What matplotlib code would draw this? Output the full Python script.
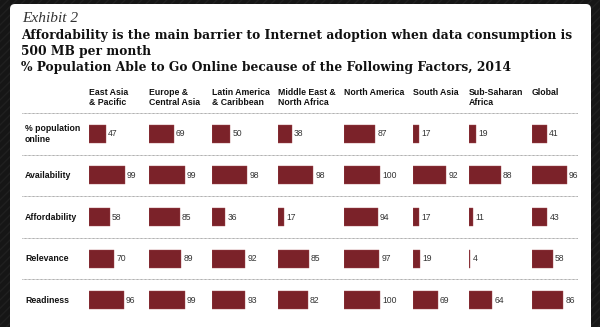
import matplotlib
matplotlib.use("Agg")
import matplotlib.pyplot as plt
from matplotlib.patches import FancyBboxPatch, Rectangle

regions = ["East Asia\n& Pacific", "Europe &\nCentral Asia", "Latin America\n& Caribbean",
           "Middle East &\nNorth Africa", "North America", "South Asia", "Sub-Saharan\nAfrica", "Global"]
factors = ["% population\nonline", "Availability", "Affordability", "Relevance", "Readiness"]
pct_online = [47, 69, 50, 38, 87, 17, 19, 41]
availability = [99, 99, 98, 98, 100, 92, 88, 96]
affordability = [58, 85, 36, 17, 94, 17, 11, 43]
relevance = [70, 89, 92, 85, 97, 19, 4, 58]
readiness = [96, 99, 93, 82, 100, 69, 64, 86]
series = [pct_online, availability, affordability, relevance, readiness]

W, H = 600, 327
BAR = "#7b2229"
fig = plt.figure(figsize=(W / 100, H / 100), dpi=100)
fig.patch.set_facecolor("#161616")

# overlay axes in pixel coordinates
bg = fig.add_axes([0, 0, 1, 1])
bg.set_xlim(0, W)
bg.set_ylim(H, 0)
bg.axis("off")
bg.add_patch(Rectangle((0, 0), W, H, facecolor="#161616", edgecolor="#202020",
                       hatch="////", linewidth=0, zorder=0))
bg.add_patch(FancyBboxPatch((10, 4), 581, H + 20, boxstyle="round,pad=0,rounding_size=5",
                            facecolor="white", edgecolor="none", zorder=1))

renderer = fig.canvas.get_renderer()


def fit_text(x, y, s, target_w, **kw):
    t = bg.text(x, y, s, fontsize=10, zorder=3, va="center", **kw)
    w = t.get_window_extent(renderer=renderer).width
    t.set_fontsize(10 * target_w / w)
    return t


fit_text(22, 19, "Exhibit 2", 56, family="Liberation Serif", style="italic", color="#333333")
title_lines = ["Affordability is the main barrier to Internet adoption when data consumption is",
               "500 MB per month",
               "% Population Able to Go Online because of the Following Factors, 2014"]
t0 = fit_text(21, 35, title_lines[0], 551, family="DejaVu Serif", fontweight="bold", color="#111111")
fs = t0.get_fontsize()
for k, line in enumerate(title_lines[1:], start=1):
    bg.text(21, 35 + 16.5 * k, line, fontsize=fs, family="DejaVu Serif", fontweight="bold",
            color="#111111", va="center", zorder=3)

# table geometry (pixels)
top, bottom = 113, 321
col_x = [89, 149, 212, 278, 344, 413, 469, 532]
px_per_unit = 0.36
col_w = 60
nrow = len(factors)
SFS = 6.3

# dotted separators and row labels
tab = fig.add_axes([22 / W, 1 - bottom / H, (578 - 22) / W, (bottom - top) / H])
tab.set_xlim(0, 1)
tab.set_ylim(nrow - 0.5, -0.5)
tab.axis("off")
tab.patch.set_alpha(0)
for r in range(nrow + 1):
    tab.axhline(r - 0.5, color="#777777", linestyle=(0, (0.8, 0.8)), linewidth=0.6)
for r, lab in enumerate(factors):
    tab.text(3 / (578 - 22), r, lab, fontsize=SFS, family="Liberation Sans", fontweight="bold",
             color="#111111", va="center", ha="left", linespacing=1.25)

for c, reg in enumerate(regions):
    bg.text(col_x[c], 88, reg, fontsize=SFS, family="Liberation Sans", fontweight="bold",
            color="#111111", va="top", ha="left", linespacing=1.2, zorder=3)
    ax = fig.add_axes([col_x[c] / W, 1 - bottom / H, col_w / W, (bottom - top) / H])
    ax.patch.set_alpha(0)
    ax.set_xlim(0, col_w / px_per_unit)
    ax.set_ylim(nrow - 0.5, -0.5)
    ax.axis("off")
    vals = [s[c] for s in series]
    ax.barh(range(nrow), vals, height=0.43, color=BAR, edgecolor="#a04a50", linewidth=0.3)
    for r, v in enumerate(vals):
        ax.annotate(str(v), xy=(v, r), xytext=(1.6, 0), textcoords="offset points",
                    fontsize=6.2, family="Liberation Sans", color="#333333", va="center", ha="left")

fig.savefig("out.png", dpi=100, facecolor=fig.get_facecolor())
